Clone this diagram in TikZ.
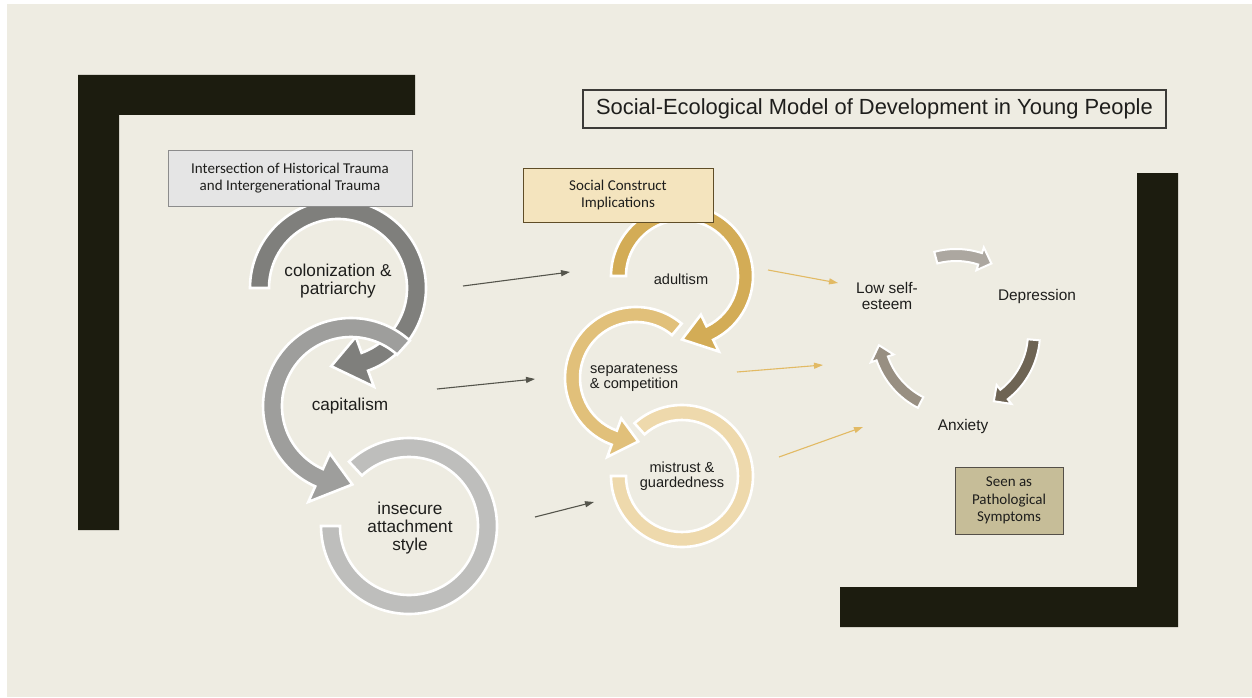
\documentclass[tikz,border=0pt]{standalone}
\usepackage{fontspec}
\setmainfont{Liberation Sans}
\newfontfamily\calibri{Carlito}
\usetikzlibrary{arrows.meta}

\definecolor{paper}{RGB}{238,236,226}
\definecolor{frame}{RGB}{28,28,15}
\definecolor{ink}{RGB}{30,30,28}
\definecolor{greyA}{RGB}{127,127,124}
\definecolor{greyB}{RGB}{158,158,156}
\definecolor{greyC}{RGB}{190,190,188}
\definecolor{goldA}{RGB}{211,172,86}
\definecolor{goldB}{RGB}{225,192,122}
\definecolor{goldC}{RGB}{238,217,172}
\definecolor{cycA}{RGB}{172,167,160}
\definecolor{cycB}{RGB}{110,100,84}
\definecolor{cycC}{RGB}{152,143,130}
\definecolor{linkgrey}{RGB}{85,85,76}
\definecolor{linkgold}{RGB}{226,186,100}
\definecolor{constructfill}{RGB}{244,228,190}
\definecolor{symptomfill}{RGB}{198,189,152}

\begin{document}
\begin{tikzpicture}[x=1pt,y=1pt,
    band/.style={draw=white,line width=2.6pt,line join=miter},
    smallband/.style={draw=white,line width=2pt,line join=miter},
    biglabel/.style={text=ink,align=center,font=\fontsize{17.2}{18.2}\selectfont},
    midlabel/.style={text=ink,align=center,font=\fontsize{14.6}{15}\selectfont},
    cyclabel/.style={text=ink,align=center,font=\fontsize{15.4}{15.4}\selectfont},
    textbox/.style={draw,line width=0.9pt,align=center,text=ink,
      font=\calibri\fontsize{15}{17.7}\selectfont,inner sep=0pt},
    greylink/.style={draw=linkgrey,line width=1.1pt,-{Triangle[length=9pt,width=6pt]}},
    goldlink/.style={draw=linkgold,line width=1.1pt,-{Triangle[length=9pt,width=6pt]}}]
  \useasboundingbox (0,0) rectangle (1252,-698);
  % page
  \fill[paper] (7,-4) rectangle (1252,-697);
  % the two corner frames
  \fill[frame] (78,-75) -- (415,-75) -- (415,-115) -- (119,-115) -- (119,-530) -- (78,-530) -- cycle;
  \fill[frame] (1178,-173) -- (1178,-627) -- (840,-627) -- (840,-587) -- (1137,-587) -- (1137,-173) -- cycle;

  % left column: circular arrows
  \begin{scope}[shift={(338,-288)}]
    \filldraw[band,fill=greyA] (180:88) arc[start angle=180,end angle=-70,radius=88]
      -- (-70:105) -- (-95:78.5) -- (-70:52) -- (-70:69)
      arc[start angle=-70,end angle=180,radius=69] -- cycle;
  \end{scope}
  \begin{scope}[shift={(351,-406)}]
    \filldraw[band,fill=greyB] (48:88) arc[start angle=48,end angle=246,radius=88]
      -- (246:105) -- (271:78.5) -- (246:52) -- (246:69)
      arc[start angle=246,end angle=48,radius=69] -- cycle;
  \end{scope}
  \begin{scope}[shift={(409,-526)}]
    \filldraw[band,fill=greyC] (133:88) arc[start angle=133,end angle=-180,radius=88]
      -- (-180:69) arc[start angle=-180,end angle=133,radius=69] -- cycle;
  \end{scope}

  % middle column
  \begin{scope}[shift={(682,-276)}]
    \filldraw[band,fill=goldA] (180:71) arc[start angle=180,end angle=-64,radius=71]
      -- (-64:84) -- (-90:63.5) -- (-64:43) -- (-64:56)
      arc[start angle=-64,end angle=180,radius=56] -- cycle;
  \end{scope}
  \begin{scope}[shift={(636,-378)}]
    \filldraw[band,fill=goldB] (50:71) arc[start angle=50,end angle=250,radius=71]
      -- (250:84) -- (272:63.5) -- (250:43) -- (250:56)
      arc[start angle=250,end angle=50,radius=56] -- cycle;
  \end{scope}
  \begin{scope}[shift={(682,-476)}]
    \filldraw[band,fill=goldC] (132:71) arc[start angle=132,end angle=-180,radius=71]
      -- (-180:56) arc[start angle=-180,end angle=132,radius=56] -- cycle;
  \end{scope}

  % right: the symptom cycle
  \begin{scope}[shift={(956,-333)}]
    \filldraw[smallband,fill=cycA] (105:84) arc[start angle=105,end angle=72,radius=84]
      -- (72:90) -- (63:78) -- (72:66) -- (72:72)
      arc[start angle=72,end angle=105,radius=72] -- cycle;
    \filldraw[smallband,fill=cycB] (-5:84) arc[start angle=-5,end angle=-52,radius=84]
      -- (-52:90) -- (-61:78) -- (-52:66) -- (-52:72)
      arc[start angle=-52,end angle=-5,radius=72] -- cycle;
    \filldraw[smallband,fill=cycC] (243:84) arc[start angle=243,end angle=199,radius=84]
      -- (199:90) -- (189:78) -- (199:66) -- (199:72)
      arc[start angle=199,end angle=243,radius=72] -- cycle;
  \end{scope}

  % labels
  \node[biglabel] (colon) at (338,-281) {colonization \&\\patriarchy};
  \node[biglabel] (capital) at (350,-406) {capitalism};
  \node[biglabel] (attach) at (410,-528) {insecure\\attachment\\style};
  \node[midlabel] (adult) at (681,-279) {adultism};
  \node[midlabel] (separate) at (634,-378) {separateness\\\& competition};
  \node[midlabel] (mistrust) at (682,-476) {mistrust \&\\guardedness};
  \node[cyclabel] (esteem) at (887,-296) {Low self-\\esteem};
  \node[cyclabel] (depress) at (1037,-297) {Depression};
  \node[cyclabel] (anxiety) at (963,-427) {Anxiety};

  % boxes
  \node[draw=black!75!paper,line width=1.2pt,fill=paper,minimum width=583pt,minimum height=38pt,
    inner sep=0pt,text=ink,font=\fontsize{21.9}{22}\selectfont] (title) at (874.5,-109)
    {Social-Ecological Model of Development in Young People};
  \node[textbox,draw=black!45,fill=black!10,minimum width=244pt,minimum height=56pt] (histbox)
    at (290,-178) {Intersection of Historical Trauma\\and Intergenerational Trauma};
  \node[textbox,draw=black!55!goldA,fill=constructfill,minimum width=190pt,minimum height=54pt] (constructbox)
    at (618,-195) {Social Construct\\Implications};
  \node[textbox,draw=black!45!cycC,fill=symptomfill,minimum width=108pt,minimum height=67pt] (symptombox)
    at (1009,-500.5) {Seen as\\Pathological\\Symptoms};

  % links between the columns
  \coordinate (g1s) at (463,-286);
  \coordinate (g1e) at (570,-272);
  \coordinate (g2s) at (437,-389);
  \coordinate (g2e) at (535,-379);
  \coordinate (g3s) at (535,-517);
  \coordinate (g3e) at (594,-502);
  \coordinate (y1s) at (768,-270);
  \coordinate (y1e) at (838,-283);
  \coordinate (y2s) at (737,-372);
  \coordinate (y2e) at (823,-365);
  \coordinate (y3s) at (779,-457);
  \coordinate (y3e) at (863,-427);
  \draw[greylink] (g1s) -- (g1e);
  \draw[greylink] (g2s) -- (g2e);
  \draw[greylink] (g3s) -- (g3e);
  \draw[goldlink] (y1s) -- (y1e);
  \draw[goldlink] (y2s) -- (y2e);
  \draw[goldlink] (y3s) -- (y3e);
\end{tikzpicture}
\end{document}
